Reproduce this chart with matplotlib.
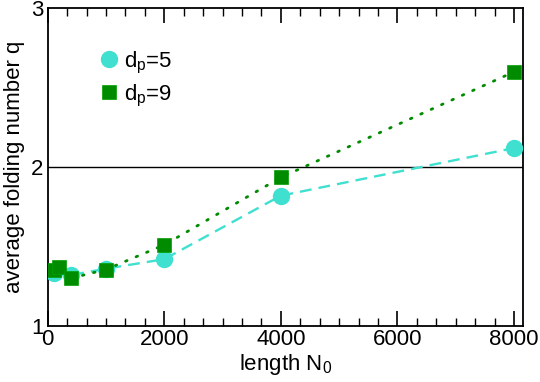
import matplotlib
matplotlib.use("Agg")
import matplotlib.pyplot as plt
from matplotlib.ticker import MultipleLocator

plt.rcParams['font.family'] = ['Liberation Sans', 'DejaVu Sans']
plt.rcParams['mathtext.fontset'] = 'custom'
plt.rcParams['mathtext.rm'] = 'Liberation Sans'
plt.rcParams['mathtext.it'] = 'Liberation Sans'

# data
x_dp5 = [100, 400, 1000, 2000, 4000, 8000]
q_dp5 = [1.33, 1.32, 1.36, 1.42, 1.82, 2.12]
x_dp9 = [100, 200, 400, 1000, 2000, 4000, 8000]
q_dp9 = [1.355, 1.37, 1.30, 1.355, 1.51, 1.935, 2.60]
xticks = [0, 2000, 4000, 6000, 8000]
yticks = [1, 2, 3]

fig = plt.figure(figsize=(5.4, 3.82), dpi=100)
ax = fig.add_axes([0.0883, 0.147, 0.969 - 0.0883, 0.978 - 0.147])

ax.axhline(2, color='black', lw=1.0, zorder=1)

ax.plot(x_dp5, q_dp5, color='#40E0D0', ls=(0, (5, 3)), lw=1.7, zorder=2)
ax.plot(x_dp9, q_dp9, color='#008B00', ls=(0, (0.6, 3.5)), lw=2.0,
        dash_capstyle='round', zorder=2)
ax.plot(x_dp5, q_dp5, ls='none', marker='o', ms=11.5, color='#40E0D0',
        mec='#40E0D0', zorder=3, label='d$_\\mathrm{p}$=5')
ax.plot(x_dp9, q_dp9, ls='none', marker='s', ms=10, color='#008B00',
        mec='#00a000', mew=0.5, zorder=4, label='d$_\\mathrm{p}$=9')

ax.set_xlim(0, 8160)
ax.set_ylim(1, 3)
ax.set_xticks(xticks)
ax.set_yticks(yticks)
ax.xaxis.set_minor_locator(MultipleLocator(2000 / 6))
ax.tick_params(axis='x', which='major', direction='in', length=11, width=1.2,
               top=True, labelsize=16, pad=2)
ax.tick_params(axis='x', which='minor', direction='in', length=6, width=1.0,
               top=True)
ax.tick_params(axis='y', which='major', direction='in', length=0,
               labelsize=16, pad=3)
for s in ax.spines.values():
    s.set_linewidth(1.3)

ax.set_xlabel('length N$_0$', fontsize=16, labelpad=2)
ax.set_ylabel('average folding number q', fontsize=16, labelpad=4)

leg = ax.legend(loc='upper left', bbox_to_anchor=(0.082, 0.898), frameon=False,
                fontsize=16, handletextpad=0.1, labelspacing=0.3,
                handlelength=1.2, borderaxespad=0)

fig.savefig('out.png', dpi=100)
